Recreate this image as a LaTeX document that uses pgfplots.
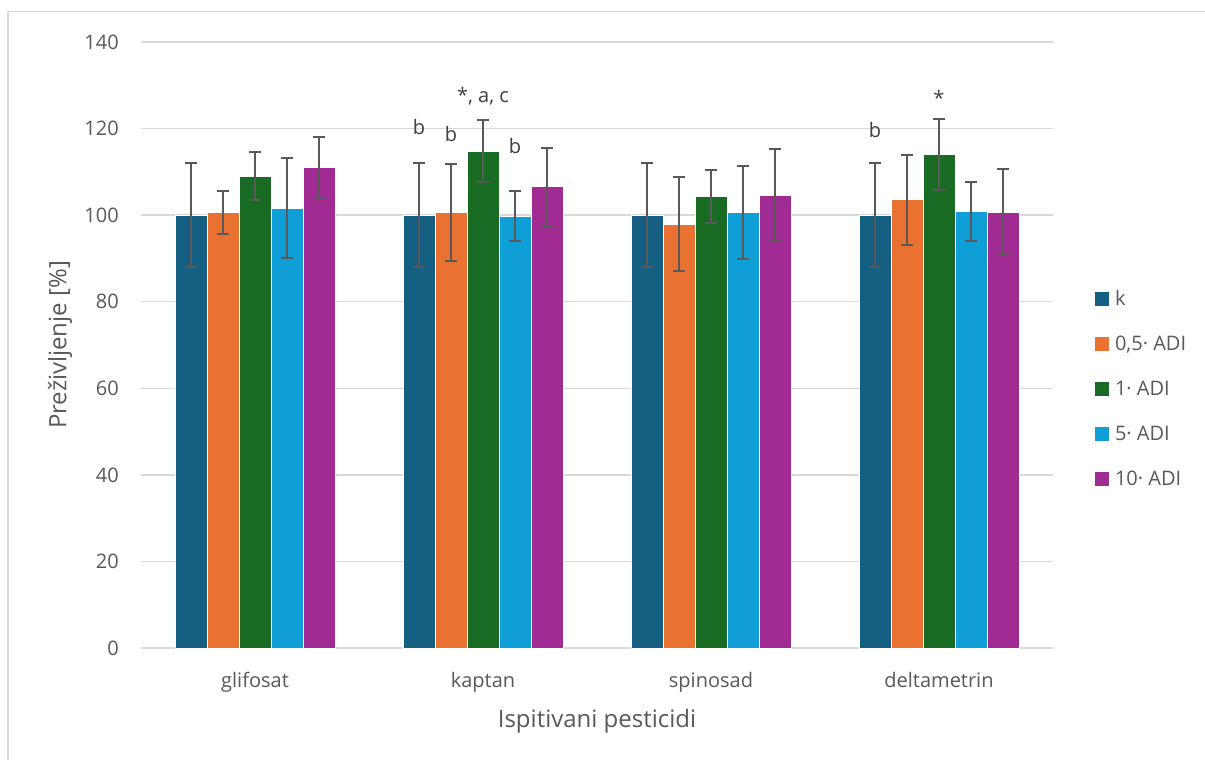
\documentclass[border=0pt]{standalone}
\usepackage{pgfplots}
\pgfplotsset{compat=1.18}
\usepackage{fontspec}
\setmainfont{Open Sans}
\definecolor{cK}{HTML}{156082}
\definecolor{cH}{HTML}{E97132}
\definecolor{cO}{HTML}{196B24}
\definecolor{cF}{HTML}{0F9ED5}
\definecolor{cT}{HTML}{A02B93}
\definecolor{txt}{HTML}{595959}
\definecolor{annot}{HTML}{404040}
\definecolor{gridc}{HTML}{D9D9D9}
\definecolor{errc}{HTML}{595959}
\newcommand{\tickfont}{\fontsize{20}{24}\selectfont}
\newcommand{\titlefont}{\fontsize{24}{29}\selectfont}
\begin{document}
\begin{tikzpicture}
\useasboundingbox (0,0) rectangle (1205pt,760pt);
\fill[white] (0,0) rectangle (1205pt,760pt);
\draw[gridc, line width=1.5pt] (8pt,0) -- (8pt,748.5pt) -- (1205pt,748.5pt);
\begin{axis}[
  at={(141pt,112pt)}, anchor=south west,
  width=912pt, height=606pt, scale only axis,
  xmin=-0.5, xmax=3.5, ymin=0, ymax=140,
  ytick={0,20,40,60,80,100,120,140},
  xtick={0,1,2,3},
  xticklabels={glifosat,kaptan,spinosad,deltametrin},
  major tick length=0pt,
  axis line style={draw=none},
  ymajorgrids,
  grid style={gridc, line width=1.5pt},
  /pgf/number format/assume math mode=true,
  tick label style={font=\tickfont, text=txt},
  xticklabel style={anchor=base, yshift=-40pt},
  yticklabel style={anchor=east, inner sep=0pt, xshift=-22pt},
  xlabel={Ispitivani pesticidi},
  ylabel={Preživljenje [\%]},
  every axis x label/.style={at={(axis description cs:0.5,-0.1304)}, anchor=base, font=\titlefont, text=txt},
  every axis y label/.style={at={(axis description cs:-0.0888,0.5)}, anchor=center, rotate=90, font=\titlefont, text=txt},
  ybar=0pt, bar width=32pt,
  every axis plot/.append style={draw=white, line width=0.75pt},
  error bars/y dir=both, error bars/y explicit,
  error bars/error bar style={errc, line width=2pt},
  error bars/error mark options={rotate=90, errc, mark size=6pt, line width=2pt},
  legend cell align=left,
  legend image code/.code={\fill[#1, draw=none] (0pt,-5pt) rectangle (14pt,8.5pt);},
  legend style={at={(axis description cs:1.0461,0.5924)}, anchor=north west,
    draw=none, fill=none, inner sep=0pt, outer sep=0pt,
    font=\tickfont, text=txt, row sep=21pt,
    nodes={inner sep=2pt, text height=15pt, text depth=5pt},
    /tikz/every odd column/.append style={column sep=4pt}},
  clip=false,
]
\addplot[fill=cK] coordinates {(0,100) +- (0,12) (1,100) +- (0,12) (2,100) +- (0,12) (3,100) +- (0,12)};
\addlegendentry{k}
\addplot[fill=cH] coordinates {(0,100.6) +- (0,5.0) (1,100.6) +- (0,11.3) (2,97.9) +- (0,10.9) (3,103.6) +- (0,10.4)};
\addlegendentry{0,5· ADI}
\addplot[fill=cO] coordinates {(0,109.0) +- (0,5.6) (1,114.8) +- (0,7.2) (2,104.3) +- (0,6.2) (3,114.1) +- (0,8.2)};
\addlegendentry{1· ADI}
\addplot[fill=cF] coordinates {(0,101.6) +- (0,11.5) (1,99.8) +- (0,5.8) (2,100.6) +- (0,10.7) (3,100.9) +- (0,6.8)};
\addlegendentry{5· ADI}
\addplot[fill=cT] coordinates {(0,111.0) +- (0,7.1) (1,106.6) +- (0,9.0) (2,104.6) +- (0,10.6) (3,100.7) +- (0,9.9)};
\addlegendentry{10· ADI}
\node[anchor=base, font=\tickfont, text=annot, xshift=-64pt] at (axis cs:1,118.7) {b};
\node[anchor=base, font=\tickfont, text=annot, xshift=-32pt] at (axis cs:1,117.0) {b};
\node[anchor=base, font=\tickfont, text=annot] at (axis cs:1,126.0) {*, a, c};
\node[anchor=base, font=\tickfont, text=annot, xshift=32pt] at (axis cs:1,114.3) {b};
\node[anchor=base, font=\tickfont, text=annot, xshift=-64pt] at (axis cs:3,118.0) {b};
\node[anchor=base, font=\tickfont, text=annot] at (axis cs:3,125.4) {*};
\end{axis}
\end{tikzpicture}
\end{document}
